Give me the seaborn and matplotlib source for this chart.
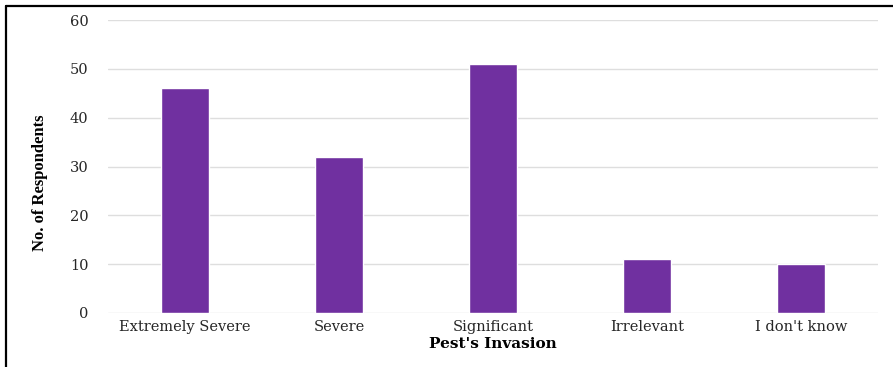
import matplotlib
matplotlib.use("Agg")
import matplotlib.pyplot as plt
from matplotlib.lines import Line2D
import seaborn as sns
import pandas as pd

categories = ["Extremely Severe", "Severe", "Significant", "Irrelevant", "I don't know"]
respondents = [46, 32, 51, 11, 10]
y_ticks = [0, 10, 20, 30, 40, 50, 60]

df = pd.DataFrame({"category": categories, "count": respondents})

sns.set_theme(style="white")
plt.rcParams["font.family"] = ["DejaVu Serif"]

fig = plt.figure(figsize=(8.93, 3.67), dpi=100)
ax = fig.add_axes([108 / 893, 1 - 313 / 367, (878 - 108) / 893, (313 - 20) / 367])

sns.barplot(data=df, x="category", y="count", color="#7030A0", saturation=1,
            width=0.31, ax=ax, zorder=3)

ax.set_ylim(0, 60)
ax.set_xlim(-0.5, 4.5)
ax.set_yticks(y_ticks)
ax.set_yticklabels([str(v) for v in y_ticks], fontsize=10.5, color="#262626")
ax.set_xticks(range(len(categories)))
ax.set_xticklabels(categories, fontsize=10.5, color="#262626")
ax.yaxis.grid(True, color="#dedede", linewidth=1.0, zorder=0)
ax.tick_params(axis="y", length=0, pad=14)
ax.tick_params(axis="x", length=0, pad=5)
for s in ax.spines.values():
    s.set_visible(False)

ax.set_xlabel("Pest's Invasion", fontsize=11, fontweight="bold", color="black", labelpad=2)
ax.set_ylabel("")
fig.text(40 / 893, 1 - 183 / 367, "No. of Respondents", rotation=90,
         ha="center", va="center", fontsize=12, family=["Liberation Serif"],
         fontweight="bold", color="black")

# frame lines along the left and top edges
fig.add_artist(Line2D([6 / 893, 6 / 893], [0, 1 - 6 / 367], transform=fig.transFigure,
                      color="black", linewidth=1.6))
fig.add_artist(Line2D([6 / 893, 1], [1 - 6 / 367, 1 - 6 / 367], transform=fig.transFigure,
                      color="black", linewidth=1.6))

fig.savefig("out.png", dpi=100)
